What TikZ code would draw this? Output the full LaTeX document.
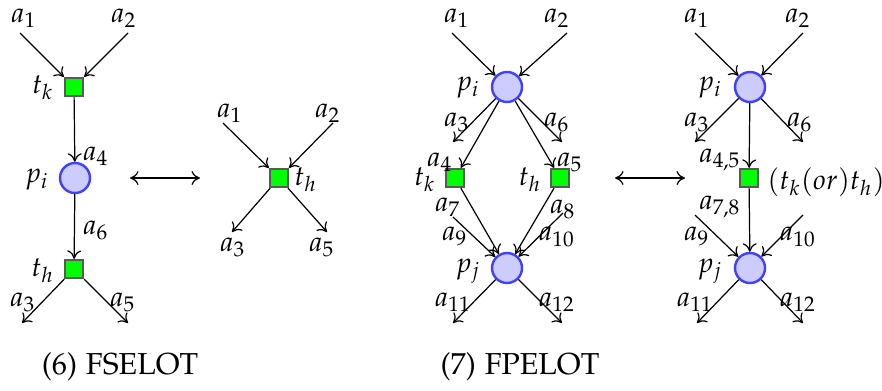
\documentclass[tikz,border=0pt]{standalone}
\usepackage{mathpazo}
\usepackage{tikz}
\usetikzlibrary{arrows.meta}

\begin{document}
\begin{tikzpicture}[
  x=0.33pt, y=-0.33pt,
  place/.style={circle, draw=blue!75, fill=blue!20, line width=0.8pt,
                minimum size=9.9pt, inner sep=0pt},
  trans/.style={rectangle, draw=black!65, fill=green, line width=0.8pt,
                minimum size=5.9pt, inner sep=0pt},
  arc/.style={-{To[length=2.8pt,width=4.6pt]}, line width=0.4pt},
  equiv/.style={{To[length=2.8pt,width=4.6pt]}-{To[length=2.8pt,width=4.6pt]}, line width=0.4pt},
  lbl/.style={inner sep=0pt, font=\fontsize{9.2}{11}\selectfont},
  caption/.style={inner sep=0pt, font=\fontencoding{OT1}\fontfamily{pplx}\selectfont}
]
  \useasboundingbox (0,0) rectangle (882,390);

  % (6) FSELOT, left side
  \node[trans] (tk1) at (74,87) {};
  \node[place] (pi1) at (75,178) {};
  \node[trans] (th1) at (74,269) {};
  \coordinate (in11) at (20,33);
  \coordinate (in12) at (128,33);
  \coordinate (out13) at (22,323);
  \coordinate (out15) at (128,323);
  \node[lbl] (la11) at (24,18) {$a_1$};
  \node[lbl] (la12) at (124,18) {$a_2$};
  \node[lbl] (ltk1) at (43,88) {$t_k$};
  \node[lbl] (la14) at (96,156) {$a_4$};
  \node[lbl] (lpi1) at (37,180) {$p_i$};
  \node[lbl] (la16) at (96,230) {$a_6$};
  \node[lbl] (lth1) at (43,271) {$t_h$};
  \node[lbl] (la13) at (23,302) {$a_3$};
  \node[lbl] (la15) at (123,302) {$a_5$};
  \draw[arc] (in11) -- (tk1);
  \draw[arc] (in12) -- (tk1);
  \draw[arc] (tk1) -- (pi1);
  \draw[arc] (pi1) -- (th1);
  \draw[arc] (th1) -- (out13);
  \draw[arc] (th1) -- (out15);

  % (6) FSELOT, right side
  \node[trans] (th2) at (279,178) {};
  \coordinate (in21) at (223,123);
  \coordinate (in22) at (333,123);
  \coordinate (out23) at (232,232);
  \coordinate (out25) at (327,232);
  \node[lbl] (la21) at (230,113) {$a_1$};
  \node[lbl] (la22) at (328,113) {$a_2$};
  \node[lbl] (lth2) at (306,180) {$t_h$};
  \node[lbl] (la23) at (233,247) {$a_3$};
  \node[lbl] (la25) at (322,247) {$a_5$};
  \draw[arc] (in21) -- (th2);
  \draw[arc] (in22) -- (th2);
  \draw[arc] (th2) -- (out23);
  \draw[arc] (th2) -- (out25);

  \coordinate (eq1a) at (130,178);
  \coordinate (eq1b) at (200,178);
  \draw[equiv] (eq1a) -- (eq1b);

  % (7) FPELOT, left side
  \node[place] (pi3) at (507,87) {};
  \node[trans] (tk3) at (455,178) {};
  \node[trans] (th3) at (560,178) {};
  \node[place] (pj3) at (507,268) {};
  \coordinate (in31) at (452,33);
  \coordinate (in32) at (567,33);
  \coordinate (out33) at (453,142);
  \coordinate (out36) at (562,142);
  \coordinate (in39) at (453,217);
  \coordinate (in310) at (563,213);
  \coordinate (out311) at (453,323);
  \coordinate (out312) at (562,323);
  \node[lbl] (la31) at (457,18) {$a_1$};
  \node[lbl] (la32) at (557,18) {$a_2$};
  \node[lbl] (lpi3) at (468,88) {$p_i$};
  \node[lbl] (la33) at (457,122) {$a_3$};
  \node[lbl] (la36) at (557,122) {$a_6$};
  \node[lbl] (la34) at (440,162) {$a_4$};
  \node[lbl] (la35) at (570,162) {$a_5$};
  \node[lbl] (ltk3) at (425,180) {$t_k$};
  \node[lbl] (lth3) at (530,180) {$t_h$};
  \node[lbl] (la37) at (448,207) {$a_7$};
  \node[lbl] (la38) at (563,209) {$a_8$};
  \node[lbl] (la39) at (455,236) {$a_9$};
  \node[lbl] (la310) at (557,237) {$a_{10}$};
  \node[lbl] (lpj3) at (468,271) {$p_j$};
  \node[lbl] (la311) at (453,302) {$a_{11}$};
  \node[lbl] (la312) at (557,302) {$a_{12}$};
  \draw[arc] (in31) -- (pi3);
  \draw[arc] (in32) -- (pi3);
  \draw[arc] (pi3) -- (out33);
  \draw[arc] (pi3) -- (out36);
  \draw[arc] (pi3) -- (tk3);
  \draw[arc] (pi3) -- (th3);
  \draw[arc] (tk3) -- (pj3);
  \draw[arc] (th3) -- (pj3);
  \draw[arc] (in39) -- (pj3);
  \draw[arc] (in310) -- (pj3);
  \draw[arc] (pj3) -- (out311);
  \draw[arc] (pj3) -- (out312);

  \coordinate (eq2a) at (615,178);
  \coordinate (eq2b) at (685,178);
  \draw[equiv] (eq2a) -- (eq2b);

  % (7) FPELOT, right side
  \node[place] (pi4) at (750,87) {};
  \node[trans] (tkh4) at (749,178) {};
  \node[place] (pj4) at (750,268) {};
  \coordinate (in41) at (695,33);
  \coordinate (in42) at (803,33);
  \coordinate (out43) at (695,142);
  \coordinate (out46) at (803,142);
  \coordinate (in49) at (695,215);
  \coordinate (in410) at (803,215);
  \coordinate (out411) at (697,323);
  \coordinate (out412) at (803,323);
  \node[lbl] (la41) at (697,18) {$a_1$};
  \node[lbl] (la42) at (798,18) {$a_2$};
  \node[lbl] (lpi4) at (710,88) {$p_i$};
  \node[lbl] (la43) at (697,122) {$a_3$};
  \node[lbl] (la46) at (800,122) {$a_6$};
  \node[lbl] (la445) at (720,160) {$a_{4,5}$};
  \node[lbl, anchor=west] (ltkh4) at (767,182) {$(t_k(or)t_h)$};
  \node[lbl] (la478) at (720,207) {$a_{7,8}$};
  \node[lbl] (la49) at (697,236) {$a_9$};
  \node[lbl] (la410) at (798,237) {$a_{10}$};
  \node[lbl] (lpj4) at (710,271) {$p_j$};
  \node[lbl] (la411) at (695,302) {$a_{11}$};
  \node[lbl] (la412) at (798,302) {$a_{12}$};
  \draw[arc] (in41) -- (pi4);
  \draw[arc] (in42) -- (pi4);
  \draw[arc] (pi4) -- (out43);
  \draw[arc] (pi4) -- (out46);
  \draw[arc] (pi4) -- (tkh4);
  \draw[arc] (tkh4) -- (pj4);
  \draw[arc] (in49) -- (pj4);
  \draw[arc] (in410) -- (pj4);
  \draw[arc] (pj4) -- (out411);
  \draw[arc] (pj4) -- (out412);

  % captions
  \node[caption] (cap6) at (120,367) {(6) FSELOT};
  \node[caption] (cap7) at (520,367) {(7) FPELOT};
\end{tikzpicture}
\end{document}
